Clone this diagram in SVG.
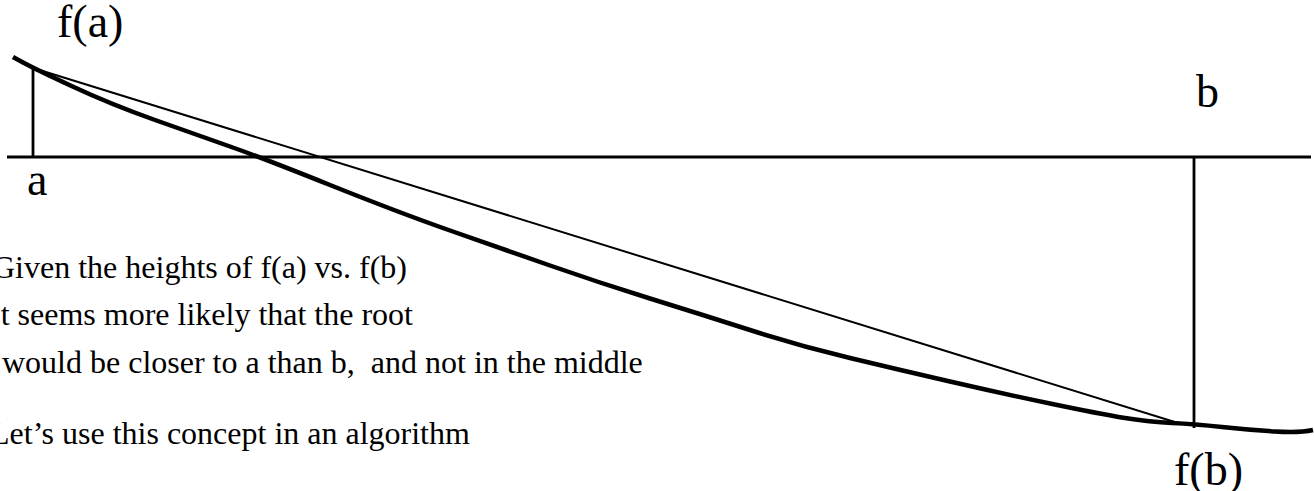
<svg xmlns="http://www.w3.org/2000/svg" width="1314" height="491" viewBox="0 0 1314 491">
<style>
.lbl{font-family:"Liberation Serif","Times New Roman",serif;font-size:46px;fill:#000}
.txt{font-family:"Liberation Serif","Times New Roman",serif;font-size:32px;fill:#000;white-space:pre}
.ln{stroke:#000;fill:none;stroke-linecap:butt}
</style>
<rect width="1314" height="491" fill="#fff"/>
<g id="connectors">
<line id="axis" class="ln" x1="7" y1="157" x2="1311" y2="157" stroke-width="3"/>
<line id="vert-a" class="ln" x1="33" y1="68" x2="33" y2="158" stroke-width="2.8"/>
<line id="vert-b" class="ln" x1="1194" y1="157" x2="1194" y2="428" stroke-width="2.8"/>
<line id="secant" class="ln" x1="33" y1="68" x2="1178" y2="423" stroke-width="2"/>
<path id="curve" class="ln" stroke-width="4.5" stroke-linejoin="round" d="M13,57 L23,62.5 Q33,68 71.5,86 Q110,104 155,120 Q200,136 230,146.5 Q260,157 330,185 Q400,213 450,230.5 Q500,248 550,265.5 Q600,283 650,298.5 Q700,314 750,330 Q800,346 850,358 Q900,370 950,381.5 Q1000,393 1050,403.5 Q1100,414 1125,418 Q1150,422 1172,423 Q1194,424 1222,427 Q1250,430 1275,431.5 Q1300,433 1313,430"/>
</g>
<g id="label-fa"><text class="lbl" x="57" y="37">f(a)</text></g>
<g id="label-a"><text class="lbl" x="27" y="195">a</text></g>
<g id="label-b"><text class="lbl" x="1196" y="107">b</text></g>
<g id="label-fb"><text class="lbl" x="1174" y="485">f(b)</text></g>
<g id="notes">
<text class="txt" x="-8" y="278">Given the heights of f(a) vs. f(b)</text>
<text class="txt" x="-10" y="325">It seems more likely that the root</text>
<text class="txt" x="2" y="373" xml:space="preserve">would be closer to a than b,  and not in the middle</text>
<text class="txt" x="-10" y="444">Let’s use this concept in an algorithm</text>
</g>
</svg>
